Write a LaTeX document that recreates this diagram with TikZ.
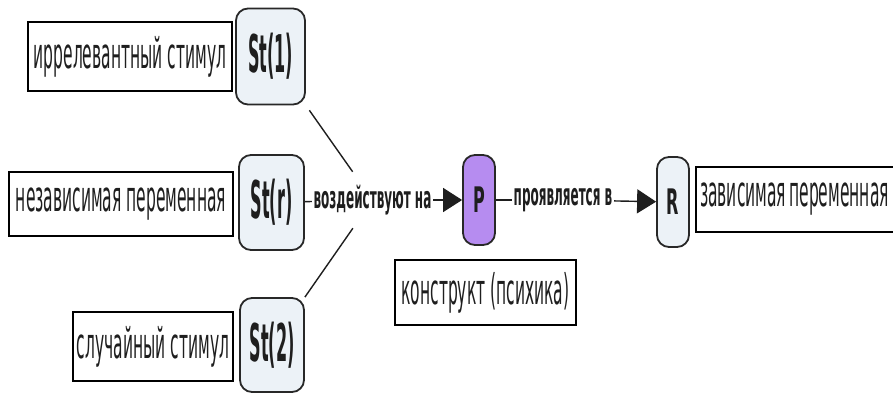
\documentclass[tikz,border=0pt]{standalone}
\usepackage{fontspec}
\setmainfont{DejaVu Sans}
\usepackage{graphicx}
\usetikzlibrary{arrows.meta}
\definecolor{stfill}{RGB}{236,242,247}
\definecolor{pfill}{RGB}{182,140,240}
\definecolor{edge}{RGB}{40,40,40}
\definecolor{ink}{RGB}{30,30,30}
\newcommand\outtxt[1]{\scalebox{0.97}[2.64]{\fontsize{16}{16}\selectfont #1}}
\newcommand\lnktxt[1]{\scalebox{1}[2.55]{\fontsize{12}{12}\selectfont\bfseries #1}}
\newcommand\sttxt[1]{\scalebox{1}[3.25]{\fontsize{16}{16}\selectfont\bfseries #1}}
\newcommand\prtxt[1]{\scalebox{1}[2.2]{\fontsize{16}{16}\selectfont\bfseries #1}}
\tikzset{
  outbox/.style={draw=black, line width=1.8pt, fill=white, inner sep=0pt, text=ink},
  stbox/.style={draw=edge, line width=1.8pt, fill=stfill, rounded corners=12pt, inner sep=0pt, text=ink},
  pbox/.style={draw=edge, line width=1.8pt, fill=pfill, rounded corners=12pt, inner sep=0pt, text=ink},
  lnk/.style={fill=white, inner xsep=1.5pt, inner ysep=0pt, minimum height=56pt, text=ink},
  conn/.style={draw=ink, line width=1.4pt},
  arr/.style={conn, -{Triangle[length=19pt,width=24pt]}}
}
\begin{document}
\begin{tikzpicture}[x=1pt,y=-1pt]
\useasboundingbox (0,0) rectangle (893,393);
\fill[white] (0,0) rectangle (893,393);
% left text boxes
\node[outbox, minimum width=204pt, minimum height=69pt] (b1) at (130,56.5) {\outtxt{иррелевантный стимул}};
\node[outbox, minimum width=224pt, minimum height=64pt] (b2) at (121,204) {\outtxt{независимая переменная}};
\node[outbox, minimum width=160pt, minimum height=69pt] (b3) at (153,346.5) {\outtxt{случайный стимул}};
% stimuli
\node[stbox, minimum width=69pt, minimum height=96pt] (s1) at (270.5,56.5) {\sttxt{St(1)}};
\node[stbox, minimum width=65pt, minimum height=95pt] (sr) at (271.5,202.5) {\sttxt{St(r)}};
\node[stbox, minimum width=64pt, minimum height=94pt] (s2) at (272,345) {\sttxt{St(2)}};
% construct and response
\node[pbox, minimum width=32pt, minimum height=90pt] (p) at (479,200) {\prtxt{P}};
\node[stbox, minimum width=32pt, minimum height=90pt] (r) at (673,202) {\prtxt{R}};
\node[outbox, minimum width=181pt, minimum height=65pt] (b5) at (485.5,292.5) {\outtxt{конструкт (психика)}};
\node[outbox, minimum width=201pt, minimum height=65pt, text width=193pt, align=left] (b4) at (796.5,199.5) {\outtxt{зависимая переменная}};
% link phrases
\node[lnk] (lk1) at (372.5,200) {\lnktxt{воздействуют на}};
\node[lnk] (lk2) at (563,200) {\lnktxt{проявляется в}};
% connectors
\draw[conn, shorten <=6pt] (s1.south east) -- (lk1);
\draw[conn] (s2.north east) -- (lk1);
\draw[conn] (sr) -- (lk1);
\draw[arr] (lk1) -- (p);
\draw[conn] (p) -- (lk2);
\draw[arr] (lk2) -- (r);
\end{tikzpicture}
\end{document}
